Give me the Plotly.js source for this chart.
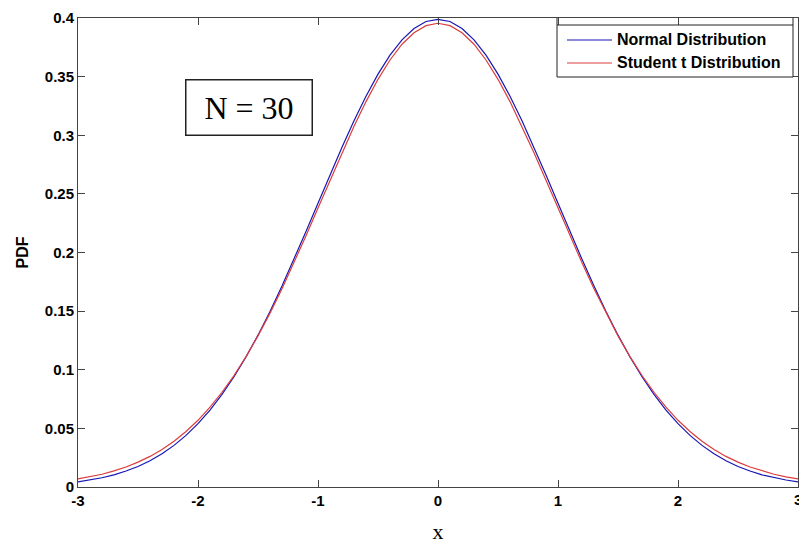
<!DOCTYPE html>
<html>
<head>
<meta charset="utf-8">
<script src="https://cdn.plot.ly/plotly-3.0.1.min.js"></script>
<style>html,body{margin:0;padding:0;background:#fff;}#chart{width:799px;height:544px;}</style>
</head>
<body>
<div id="chart"></div>
<script>
// x sample points
var xVals = [-3,-2.9,-2.8,-2.7,-2.6,-2.5,-2.4,-2.3,-2.2,-2.1,-2,-1.9,-1.8,-1.7,-1.6,-1.5,-1.4,-1.3,-1.2,-1.1,-1,-0.9,-0.8,-0.7,-0.6,-0.5,-0.4,-0.3,-0.2,-0.1,0,0.1,0.2,0.3,0.4,0.5,0.6,0.7,0.8,0.9,1,1.1,1.2,1.3,1.4,1.5,1.6,1.7,1.8,1.9,2,2.1,2.2,2.3,2.4,2.5,2.6,2.7,2.8,2.9,3];
// Normal distribution PDF values
var normalPdf = [0.0044,0.0060,0.0079,0.0104,0.0136,0.0175,0.0224,0.0283,0.0355,0.0440,0.0540,0.0656,0.0790,0.0940,0.1109,0.1295,0.1497,0.1714,0.1942,0.2179,0.2420,0.2661,0.2897,0.3123,0.3332,0.3521,0.3683,0.3814,0.3910,0.3970,0.3989,0.3970,0.3910,0.3814,0.3683,0.3521,0.3332,0.3123,0.2897,0.2661,0.2420,0.2179,0.1942,0.1714,0.1497,0.1295,0.1109,0.0940,0.0790,0.0656,0.0540,0.0440,0.0355,0.0283,0.0224,0.0175,0.0136,0.0104,0.0079,0.0060,0.0044];
// Student t distribution PDF values
var studentPdf = [0.0069,0.0087,0.0109,0.0137,0.0171,0.0212,0.0261,0.0320,0.0391,0.0473,0.0569,0.0681,0.0808,0.0951,0.1112,0.1289,0.1483,0.1691,0.1912,0.2142,0.2379,0.2616,0.2851,0.3076,0.3287,0.3477,0.3642,0.3776,0.3874,0.3935,0.3955,0.3935,0.3874,0.3776,0.3642,0.3477,0.3287,0.3076,0.2851,0.2616,0.2379,0.2142,0.1912,0.1691,0.1483,0.1289,0.1112,0.0951,0.0808,0.0681,0.0569,0.0473,0.0391,0.0320,0.0261,0.0212,0.0171,0.0137,0.0109,0.0087,0.0069];
var xTicks = [-3,-2,-1,0,1,2,3];
var xTickLabels = ['-3','-2','-1','0','1','2','3'];
var yTicks = [0,0.05,0.1,0.15,0.2,0.25,0.3,0.35,0.4];
var yTickLabels = ['0','0.05','0.1','0.15','0.2','0.25','0.3','0.35','0.4'];
var seriesNames = ['Normal Distribution','Student t Distribution'];
var seriesColors = ['#1616b4','#dc3c3c'];

var sans = 'Liberation Sans, Arial, sans-serif';
var serif = 'Liberation Serif, Times New Roman, serif';
var tickFont = {family:sans, size:15, color:'#000', weight:'bold'};

var traces = [
  {x:xVals, y:normalPdf, type:'scatter', mode:'lines', name:seriesNames[0],
   line:{color:seriesColors[0], width:1.2}},
  {x:xVals, y:studentPdf, type:'scatter', mode:'lines', name:seriesNames[1],
   line:{color:seriesColors[1], width:1.2}}
];

// pixel -> paper helpers (plot area: x 78..798, y 18..487)
function px(v){ return (v-78)/720; }
function py(v){ return 1-(v-18)/469; }

var shapes = [
  {type:'rect', xref:'paper', yref:'paper', x0:px(557), x1:px(793), y0:py(77), y1:py(25),
   line:{color:'#222', width:1}, fillcolor:'#fff', layer:'above'},
  {type:'line', xref:'paper', yref:'paper', x0:px(557), x1:px(557), y0:py(25), y1:py(18),
   line:{color:'#222', width:1}},
  {type:'line', xref:'paper', yref:'paper', x0:px(793), x1:px(793), y0:py(25), y1:py(18),
   line:{color:'#222', width:1}}
];
var annotations = [{
    xref:'paper', yref:'paper', x:0.2375, y:0.809, xanchor:'center', yanchor:'middle',
    text:'N = 30', showarrow:false,
    font:{family:serif, size:32, color:'#000'},
    bordercolor:'#222', borderwidth:1.5, borderpad:0, bgcolor:'#fff',
    width:125, height:54
  },
  {xref:'x', yref:'paper', x:xTicks[xTicks.length-1], y:py(500), xanchor:'center', yanchor:'middle',
   text:xTickLabels[xTickLabels.length-1], showarrow:false, font:tickFont}
];
var rowY = [40, 63];
for (var i = 0; i < seriesNames.length; i++) {
  shapes.push({type:'line', xref:'paper', yref:'paper', x0:px(567), x1:px(612), y0:py(rowY[i]), y1:py(rowY[i]),
    line:{color:seriesColors[i], width:1.2}});
  annotations.push({xref:'paper', yref:'paper', x:px(615), y:py(rowY[i]), xanchor:'left', yanchor:'middle',
    text:seriesNames[i], showarrow:false, font:{family:sans, size:16, color:'#000', weight:'bold'}});
}

var layout = {
  width:799, height:544,
  margin:{l:78, r:1, t:18, b:57, pad:0},
  paper_bgcolor:'#fff', plot_bgcolor:'#fff',
  showlegend:false,
  xaxis:{range:[-3,3], tickvals:xTicks, ticktext:xTickLabels,
    showgrid:false, zeroline:false, showline:true, linecolor:'#444', linewidth:1,
    mirror:'ticks', ticks:'inside', ticklen:7, tickcolor:'#444', tickfont:tickFont,
    title:{text:'x', font:{family:serif, size:22, color:'#000'}, standoff:18}},
  yaxis:{range:[0,0.4], tickvals:yTicks, ticktext:yTickLabels,
    showgrid:false, zeroline:false, showline:true, linecolor:'#444', linewidth:1,
    mirror:'ticks', ticks:'inside', ticklen:7, tickcolor:'#444', tickfont:tickFont,
    title:{text:'PDF', font:{family:sans, size:16, color:'#000', weight:'bold'}, standoff:12}},
  shapes:shapes,
  annotations:annotations
};

Plotly.newPlot('chart', traces, layout, {displayModeBar:false, staticPlot:true});
</script>
</body>
</html>
